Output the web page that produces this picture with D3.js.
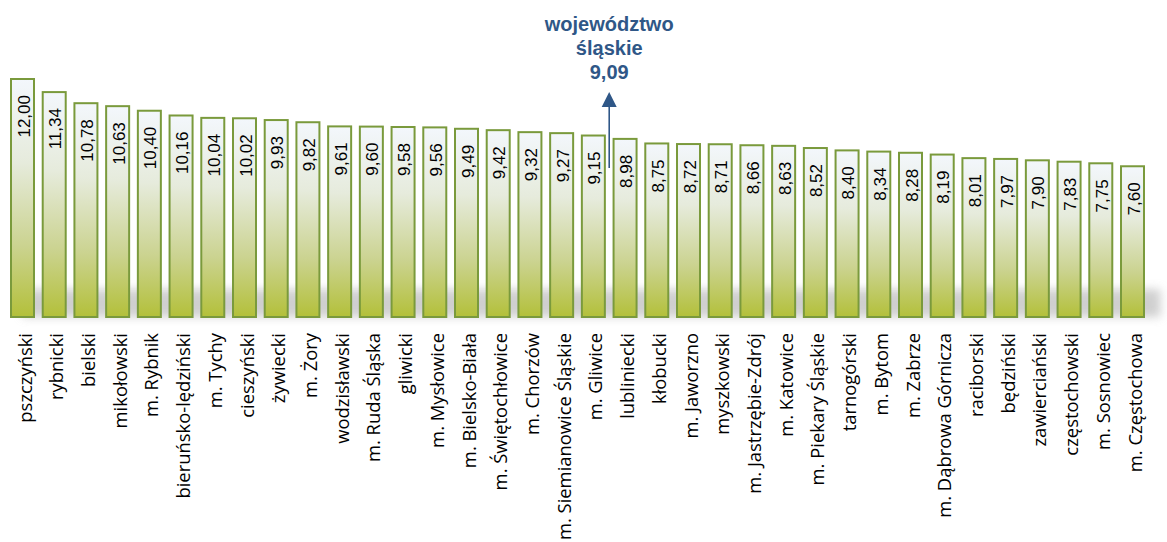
<!DOCTYPE html>
<html lang="pl">
<head>
    <meta charset="UTF-8">
    <title>Województwo śląskie</title>
    <script src="https://d3js.org/d3.v7.min.js"></script>
    <style>
        body { margin: 0; background: #fff; }
        svg { display: block; }
    </style>
</head>
<body>
    <div id="chart"></div>

    <script>
        // Data
        const categories = [
            "pszczyński", "rybnicki", "bielski", "mikołowski", "m. Rybnik",
            "bieruńsko-lędziński", "m. Tychy", "cieszyński", "żywiecki", "m. Żory",
            "wodzisławski", "m. Ruda Śląska", "gliwicki", "m. Mysłowice", "m. Bielsko-Biała",
            "m. Świętochłowice", "m. Chorzów", "m. Siemianowice Śląskie", "m. Gliwice", "lubliniecki",
            "kłobucki", "m. Jaworzno", "myszkowski", "m. Jastrzębie-Zdrój", "m. Katowice",
            "m. Piekary Śląskie", "tarnogórski", "m. Bytom", "m. Zabrze", "m. Dąbrowa Górnicza",
            "raciborski", "będziński", "zawierciański", "częstochowski", "m. Sosnowiec",
            "m. Częstochowa"
        ];
        const values = [
            12.00, 11.34, 10.78, 10.63, 10.40, 10.16, 10.04, 10.02, 9.93, 9.82,
            9.61, 9.60, 9.58, 9.56, 9.49, 9.42, 9.32, 9.27, 9.15, 8.98,
            8.75, 8.72, 8.71, 8.66, 8.63, 8.52, 8.40, 8.34, 8.28, 8.19,
            8.01, 7.97, 7.90, 7.83, 7.75, 7.60
        ];
        const regionLabel = ["województwo", "śląskie"];
        const regionValue = 9.09;

        const width = 1167, height = 542;
        const fmt = v => v.toFixed(2).replace(".", ",");

        const svg = d3.select("#chart")
                      .append("svg")
                      .attr("width", width)
                      .attr("height", height);

        const defs = svg.append("defs");
        const grad = defs.append("linearGradient")
            .attr("id", "barGrad")
            .attr("x1", 0).attr("y1", 0).attr("x2", 0).attr("y2", 1);
        grad.append("stop").attr("offset", "0%").attr("stop-color", "#f3f7fc");
        grad.append("stop").attr("offset", "35%").attr("stop-color", "#e6ebdc");
        grad.append("stop").attr("offset", "70%").attr("stop-color", "#cbd390");
        grad.append("stop").attr("offset", "100%").attr("stop-color", "#b3c03a");

        defs.append("filter")
            .attr("id", "blur")
            .attr("x", "-10%").attr("y", "-100%").attr("width", "120%").attr("height", "300%")
            .append("feGaussianBlur").attr("stdDeviation", 5);

        const x = d3.scalePoint()
            .domain(categories)
            .range([22.5, 1132.5]);
        const barW = 23;

        const y = d3.scaleLinear()
            .domain([0, 12])
            .range([317, 79]);

        // soft grey shadow behind the bar bases
        svg.append("rect")
            .attr("x", x(categories[0]))
            .attr("y", y(1.4))
            .attr("width", x(categories[categories.length - 1]) - x(categories[0]) + 28)
            .attr("height", y(0) - y(1.4))
            .attr("fill", "#bcbcbc")
            .attr("opacity", 0.7)
            .attr("filter", "url(#blur)");

        // annotation arrow (drawn before bars)
        const ax = (x(categories[18]) + x(categories[19])) / 2;
        svg.append("line")
            .attr("x1", ax).attr("x2", ax)
            .attr("y1", 106).attr("y2", 168)
            .attr("stroke", "#2f5787")
            .attr("stroke-width", 1.6);
        svg.append("path")
            .attr("d", `M${ax},92 L${ax - 7.5},107 L${ax + 7.5},107 Z`)
            .attr("fill", "#2f5787");

        const ann = svg.append("text")
            .attr("x", ax)
            .attr("text-anchor", "middle")
            .attr("font-family", "Liberation Sans, Arial, sans-serif")
            .attr("font-weight", "bold")
            .attr("font-size", "20px")
            .attr("fill", "#2f5787");
        regionLabel.concat([fmt(regionValue)]).forEach((t, i) => {
            ann.append("tspan").attr("x", ax).attr("y", 31 + i * 24).text(t);
        });

        // bars
        svg.selectAll("rect.bar")
            .data(values)
            .enter().append("rect")
            .attr("class", "bar")
            .attr("x", (d, i) => x(categories[i]) - barW / 2)
            .attr("y", d => y(d))
            .attr("width", barW)
            .attr("height", d => y(0) - y(d))
            .attr("fill", "url(#barGrad)")
            .attr("stroke", "#7a9a3c")
            .attr("stroke-width", 2);

        // value labels inside bars, rotated
        svg.selectAll("text.val")
            .data(values)
            .enter().append("text")
            .attr("class", "val")
            .attr("transform", (d, i) => `translate(${x(categories[i]) + 1.5},${y(d) + 16}) rotate(-90)`)
            .attr("text-anchor", "end")
            .attr("dominant-baseline", "central")
            .attr("font-family", "Liberation Sans, Arial, sans-serif")
            .attr("font-size", "17px")
            .attr("fill", "#000")
            .text(d => fmt(d));

        // category labels, rotated
        svg.selectAll("text.cat")
            .data(categories)
            .enter().append("text")
            .attr("class", "cat")
            .attr("transform", d => `translate(${x(d) + 1.5},333) rotate(-90)`)
            .attr("text-anchor", "end")
            .attr("dominant-baseline", "central")
            .attr("font-family", "Open Sans, sans-serif")
            .attr("font-size", "18.4px")
            .attr("fill", "#000")
            .text(d => d);
    </script>
</body>
</html>
